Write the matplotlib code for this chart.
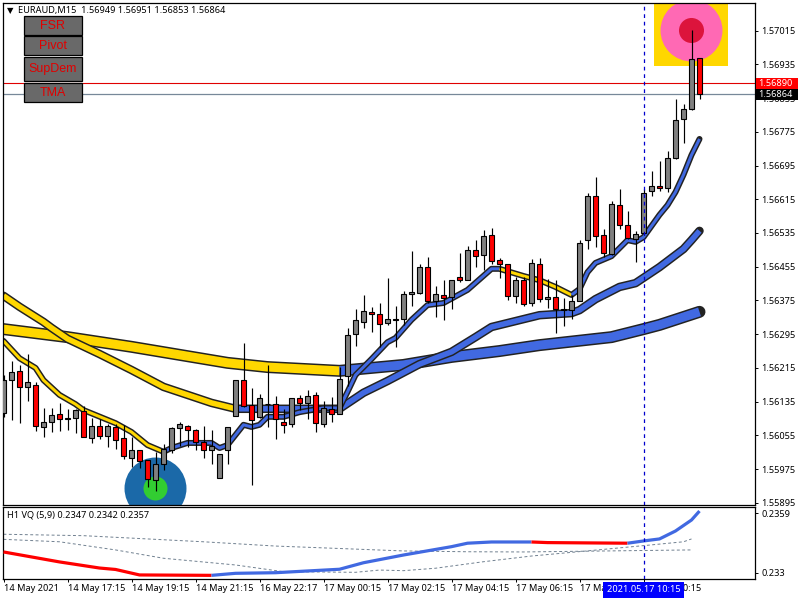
import matplotlib
matplotlib.use("Agg")
import matplotlib.pyplot as plt
from matplotlib.patches import Rectangle
from matplotlib.transforms import blended_transform_factory

# ---------- data (prices in 1e-5 units, bar index along x) ----------
open_p = [156109,156187,156207,156169,156175,156075,156086,156105,156093,156095,156112,156048,156077,156054,156074,156048,156002,156020,155996,155948,155988,156020,156073,156077,156067,156039,156020,155953,156020,156100,156186,156128,156098,156129,156130,156087,156081,156143,156131,156150,156081,156117,156105,156195,156295,156323,156347,156344,156321,156330,156330,156390,156392,156454,156373,156387,156382,156430,156423,156494,156482,156530,156470,156461,156385,156423,156368,156461,156378,156382,156352,156352,156373,156518,156622,156530,156484,156601,156553,156520,156534,156634,156646,156641,156712,156805,156828,156949]
high_p = [156198,156231,156222,156248,156182,156120,156120,156132,156118,156118,156125,156096,156094,156082,156082,156080,156050,156020,155997,156016,156034,156075,156086,156080,156070,156077,156067,156010,156074,156186,156273,156167,156153,156222,156148,156117,156143,156151,156162,156157,156136,156145,156216,156309,156354,156387,156359,156368,156428,156363,156397,156492,156461,156477,156409,156423,156423,156487,156503,156518,156541,156546,156475,156461,156430,156430,156473,156475,156425,156423,156380,156388,156518,156629,156667,156544,156610,156639,156586,156539,156639,156681,156705,156729,156853,156840,157016,156951]
low_p = [156099,156091,156084,156137,156066,156052,156064,156066,156068,156061,156050,156038,156046,156028,156023,155999,155979,155978,155933,155924,155973,156013,156030,156028,156020,156001,155987,155953,155987,156100,156122,155937,156096,156075,156047,156061,156074,156115,156094,156064,156075,156087,156105,156173,156268,156310,156301,156265,156316,156265,156316,156363,156390,156368,156336,156329,156354,156418,156423,156454,156447,156461,156428,156376,156368,156361,156361,156371,156356,156298,156315,156330,156373,156497,156501,156477,156482,156545,156520,156467,156530,156622,156634,156632,156710,156749,156826,156853]
close_p = [156186,156205,156169,156181,156077,156086,156103,156093,156095,156114,156050,156077,156054,156077,156045,156005,156020,155995,155951,155986,156022,156072,156081,156067,156039,156020,156029,156010,156074,156186,156124,156091,156143,156130,156093,156079,156143,156131,156148,156084,156119,156105,156188,156292,156328,156349,156342,156318,156330,156328,156390,156394,156454,156373,156390,156380,156423,156423,156494,156480,156527,156468,156461,156385,156423,156366,156463,156378,156382,156354,156354,156373,156511,156622,156527,156487,156603,156553,156522,156532,156631,156646,156641,156712,156802,156828,156947,156864]

thin_idx = [0,2,4,5,7,9,10,14,16,18,20,21,23,26,27,28,30,31,32,33,35,37,40,42,43,44,46,48,49,51,53,55,58,61,62,65,67,69,71,72,73,74,76,78,79,80,82,83,84,85,86,87]
thin_ma = [156279,156238,156215,156186,156151,156129,156115,156084,156063,156032,156016,156025,156037,156037,156025,156032,156080,156075,156080,156099,156099,156110,156120,156120,156158,156198,156236,156276,156286,156329,156364,156369,156400,156450,156450,156433,156423,156407,156388,156402,156442,156464,156480,156518,156514,156525,156578,156601,156632,156673,156720,156758]
mid_idx = [0,2,5,6,8,12,16,20,23,26,29,33,42,45,48,52,56,59,61,64,67,71,72,74,77,79,82,85,86,87]
mid_ma = [156386,156360,156324,156310,156284,156248,156210,156170,156151,156132,156118,156118,156118,156156,156184,156224,156253,156288,156312,156326,156340,156345,156352,156378,156407,156416,156454,156497,156518,156540]
thick_idx = [0,8,16,28,33,38,42,46,50,56,62,67,76,80,82,87]
thick_ma = [156307,156288,156265,156227,156217,156212,156208,156215,156222,156241,156255,156269,156288,156307,156317,156348]

vq_idx = [0,7,12,14,17,26,29,34,42,45,50,56,58,61,66,68,78,80,82,84,86,87]
vq_val = [0.23401,0.23352,0.23322,0.23315,0.23288,0.23286,0.23296,0.23299,0.23316,0.23348,0.23386,0.23427,0.23444,0.2345,0.2345,0.23447,0.23444,0.23455,0.23465,0.23504,0.23558,0.23602]
upper_idx = [0,10,25,34,50,58,65,86]
upper_val = [0.23488,0.23481,0.23451,0.2343,0.23406,0.23402,0.23401,0.23411]
lower_idx = [0,7,14,20,29,35,44,47,50,54,60,66,71,80,85,86]
lower_val = [0.23463,0.23451,0.23411,0.2337,0.23337,0.23304,0.23301,0.23312,0.23309,0.23321,0.23353,0.23381,0.23399,0.23432,0.23451,0.23465]

price_ticks = [157015,156935,156855,156775,156695,156615,156535,156455,156375,156295,156215,156135,156055,155975,155895]
time_ticks = [0,8,16,24,32,40,48,56,64,72,80]
time_labels = ["14 May 2021","14 May 17:15","14 May 19:15","14 May 21:15","16 May 22:17","17 May 00:15",
               "17 May 02:15","17 May 04:15","17 May 06:15","17 May 08:15","17 May 10:15"]
vq_ticks = [0.2359,0.233]
vq_tick_labels = ["0.2359","0.233"]
buttons = ["FSR","Pivot","SupDem","TMA"]
ask_price = 156890
bid_price = 156864
cross_idx = 80
low_marker = (18.9, 155930)
high_marker = (85.9, 157016)

# ---------- style ----------
FONT = "Noto Sans"
plt.rcParams["font.family"] = FONT
W, H = 800, 600
TXT = 6.6
GRAY, RED, BLUE, GOLD, EDGE = "#808080", "#FF0000", "#4169E1", "#FFD700", "#222222"

def box(l, t, r, b):
    return [l / W, 1 - b / H, (r - l) / W, (b - t) / H]

fig = plt.figure(figsize=(8, 6), dpi=100, facecolor="white")
ax = fig.add_axes(box(2.5, 2.5, 754.5, 504.5))
ax2 = fig.add_axes(box(2.5, 506.5, 754.5, 579.3))
ax.set_xlim(-0.125, 93.875)
ax2.set_xlim(-0.125, 93.875)
ax.set_ylim(155891, 157081.7)
ax2.set_ylim(0.232666, 0.236244)

# big arrow symbols
ax.scatter(*low_marker, s=1990, c="#1B69A8", zorder=1, linewidths=0)
ax.scatter(*low_marker, s=299, c="#32CD32", zorder=1.1, linewidths=0)
ax.scatter(high_marker[0], high_marker[1] + 4, s=2840, c=GOLD, marker="s", zorder=0.9, linewidths=0)
ax.scatter(*high_marker, s=1990, c="#FF69B4", zorder=1, linewidths=0)
ax.scatter(*high_marker, s=325, c="#DC143C", zorder=1.1, linewidths=0)

# moving averages
def pieces(xs, ys, breaks):
    out = []
    for a, b, col in breaks:
        px = [x for x in xs if a <= x <= b]
        py = [y for x, y in zip(xs, ys) if a <= x <= b]
        out.append((px, py, col))
    return out

def band(xs, ys, width, breaks, z):
    ax.plot(xs, ys, color=EDGE, lw=(width + 3) * 0.72, solid_capstyle="round",
            solid_joinstyle="round", zorder=z)
    for px, py, col in pieces(xs, ys, breaks):
        ax.plot(px, py, color=col, lw=width * 0.72, solid_capstyle="butt",
                solid_joinstyle="round", zorder=z + 0.01)

band(thick_idx, thick_ma, 9, [(0, 42, GOLD), (42, 87, BLUE)], 2.0)
band(mid_idx, mid_ma, 5.5, [(0, 29, GOLD), (29, 87, BLUE)], 2.1)
band(thin_idx, thin_ma, 3, [(0, 20, GOLD), (20, 62, BLUE), (62, 71, GOLD), (71, 87, BLUE)], 2.2)

# price lines
ax.axhline(ask_price, color="#E00000", lw=0.8, zorder=2.4)
ax.axhline(bid_price, color="#778899", lw=0.9, zorder=2.4)

# candles
for i, (o, h, l, c) in enumerate(zip(open_p, high_p, low_p, close_p)):
    ax.vlines(i, l, h, color="black", lw=0.85, zorder=3)
    bottom, top = min(o, c), max(o, c)
    col = GRAY if c >= o else RED
    ax.bar(i, top - bottom, bottom=bottom, width=0.62, color=col, edgecolor="black",
           linewidth=0.8, zorder=3.1)

# crosshair
for a in (ax, ax2):
    a.axvline(cross_idx, color="#0000CD", lw=0.9, ls=(0, (3, 3)), zorder=4)

# indicator pane
ax2.plot(upper_idx, upper_val, color="#708090", lw=0.7, ls=(0, (3, 2.5)), zorder=2)
ax2.plot(lower_idx, lower_val, color="#708090", lw=0.7, ls=(0, (3, 2.5)), zorder=2)
for a, b, col in [(0, 26, RED), (26, 66, BLUE), (66, 78, RED), (78, 87, BLUE)]:
    px = [x for x in vq_idx if a <= x <= b]
    py = [y for x, y in zip(vq_idx, vq_val) if a <= x <= b]
    ax2.plot(px, py, color=col, lw=2.3, solid_capstyle="butt", zorder=3)

# axes
for a in (ax, ax2):
    for s in a.spines.values():
        s.set_linewidth(0.9)
        s.set_color("black")
    a.yaxis.tick_right()
ax.set_xticks([])
ax.set_yticks(price_ticks)
ax.set_yticklabels([f"{p / 1e5:.5f}" for p in price_ticks])
ax.tick_params(axis="y", length=2.2, width=0.7, pad=2.5, labelsize=TXT)
ax2.set_yticks(vq_ticks)
ax2.set_yticklabels(vq_tick_labels)
ax2.tick_params(axis="y", length=2.2, width=0.7, pad=2.5, labelsize=TXT)
ax2.set_xticks(time_ticks)
ax2.set_xticklabels(time_labels, ha="left")
ax2.tick_params(axis="x", length=2.2, width=0.7, pad=1.5, labelsize=TXT)

# price tags
tag_tr = blended_transform_factory(ax.transAxes, ax.transData)
for p, face in ((ask_price, RED), (bid_price, "black")):
    ax.add_patch(Rectangle((1.002, p - 13), 0.056, 26, transform=tag_tr, fc=face, ec="none",
                           clip_on=False, zorder=9))
    ax.text(1.0055, p, f"{p / 1e5:.5f}", transform=tag_tr, color="white", fontsize=TXT,
            va="center", ha="left", zorder=10, clip_on=False)

# cross label
ax2.annotate(time_labels[-1].replace("17 May", "2021.05.17"), xy=(cross_idx, 0),
             xycoords=("data", "axes fraction"), xytext=(0, -7.6), textcoords="offset points",
             color="white", fontsize=TXT, va="center", ha="center",
             bbox=dict(boxstyle="square,pad=0.35", fc="#0000FF", ec="none"), zorder=10, annotation_clip=False)

# header texts
fig.text(18 / W, 1 - 10.5 / H, "EURAUD,M15  1.56949 1.56951 1.56853 1.56864", fontsize=TXT, va="center", ha="left", color="black")
fig.text(6.5 / W, 1 - 10.5 / H, "\u25BC", fontsize=6, va="center", ha="left", color="black", family="DejaVu Sans")
fig.text(7 / W, 1 - 515 / H, f"H1 VQ (5,9) 0.2347 0.2342 0.2357", fontsize=TXT, va="center", ha="left", color="black")

# buttons
rows = [(16.5, 35), (36.5, 55), (57.5, 81), (83.5, 102)]
for label, (t, b) in zip(buttons, rows):
    fig.add_artist(Rectangle((23.5 / W, 1 - b / H), 58.5 / W, (b - t) / H, transform=fig.transFigure,
                             fc="#696969", ec="black", lw=0.9, zorder=20))
    fig.text(52.7 / W, 1 - (t + b) / 2 / H, label, color="#E00000", fontsize=9, va="center", ha="center",
             family="Liberation Sans", zorder=21)

fig.savefig("out.png", dpi=100)
